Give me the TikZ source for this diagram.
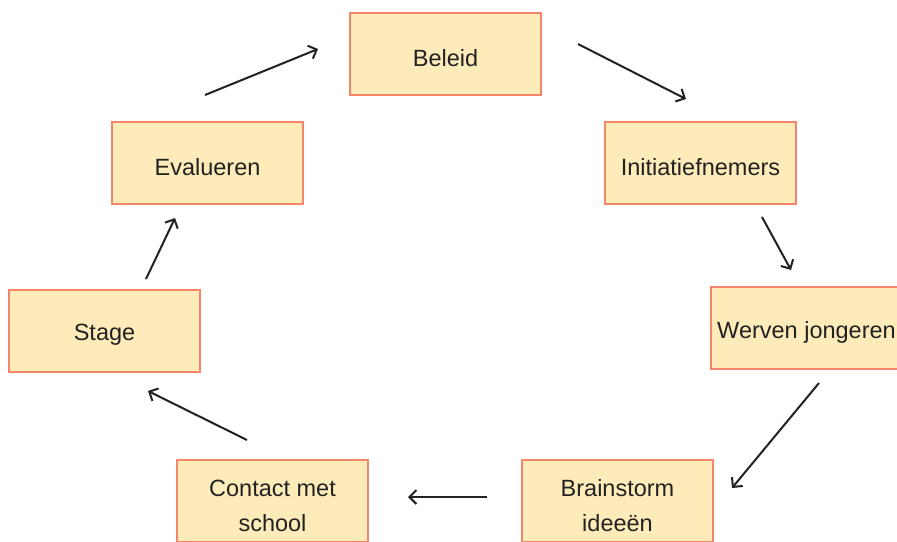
\documentclass[tikz,border=0pt]{standalone}
\usepackage{fontspec}
\setmainfont{Liberation Sans}
\usetikzlibrary{arrows.meta}
\definecolor{boxfill}{HTML}{FDEBB9}
\definecolor{boxline}{HTML}{F4846A}
\definecolor{ink}{HTML}{222222}
\begin{document}
\begin{tikzpicture}[x=1pt,y=-1pt,
  stepbox/.style={draw=boxline,fill=boxfill,line width=2pt,minimum width=191pt,minimum height=82pt,inner sep=0pt},
  steptext/.style={inner sep=0pt,align=center,font=\fontsize{23.5}{35}\selectfont,text=ink},
  flow/.style={draw=ink,line width=2pt,-{Straight Barb[length=7pt,width=14pt,line width=2pt]}}]
\useasboundingbox[fill=white] (0,0) rectangle (897,541);
\node[stepbox] (beleid) at (445.5,54) {};
\node[stepbox] (init) at (700.5,163) {};
\node[stepbox] (werven) at (806.5,328) {};
\node[stepbox] (brain) at (617.5,501) {};
\node[stepbox] (contact) at (272.5,501) {};
\node[stepbox] (stage) at (104.5,331) {};
\node[stepbox] (eval) at (207.5,163) {};
\node[steptext] (beleidT) at ([yshift=-4pt]beleid.center) {Beleid};
\node[steptext] (initT) at ([yshift=-4pt]init.center) {Initiatiefnemers};
\node[steptext] (wervenT) at ([yshift=-4pt]werven.center) {Werven jongeren};
\node[steptext] (brainT) at ([yshift=-5pt]brain.center) {Brainstorm\\ideeën};
\node[steptext] (contactT) at ([yshift=-5pt]contact.center) {Contact met\\school};
\node[steptext] (stageT) at ([yshift=-4pt]stage.center) {Stage};
\node[steptext] (evalT) at ([yshift=-4pt]eval.center) {Evalueren};
\coordinate (a1) at (205,95); \coordinate (b1) at (318,49);
\coordinate (a2) at (578,44); \coordinate (b2) at (686,99);
\coordinate (a3) at (762,217); \coordinate (b3) at (791,270);
\coordinate (a4) at (819,383); \coordinate (b4) at (732,488);
\coordinate (a5) at (487,497); \coordinate (b5) at (408,497);
\coordinate (a6) at (247,440); \coordinate (b6) at (148,391);
\coordinate (a7) at (146,279); \coordinate (b7) at (175,218);
\draw[flow] (a1) -- (b1);
\draw[flow] (a2) -- (b2);
\draw[flow] (a3) -- (b3);
\draw[flow] (a4) -- (b4);
\draw[flow] (a5) -- (b5);
\draw[flow] (a6) -- (b6);
\draw[flow] (a7) -- (b7);
\end{tikzpicture}
\end{document}
